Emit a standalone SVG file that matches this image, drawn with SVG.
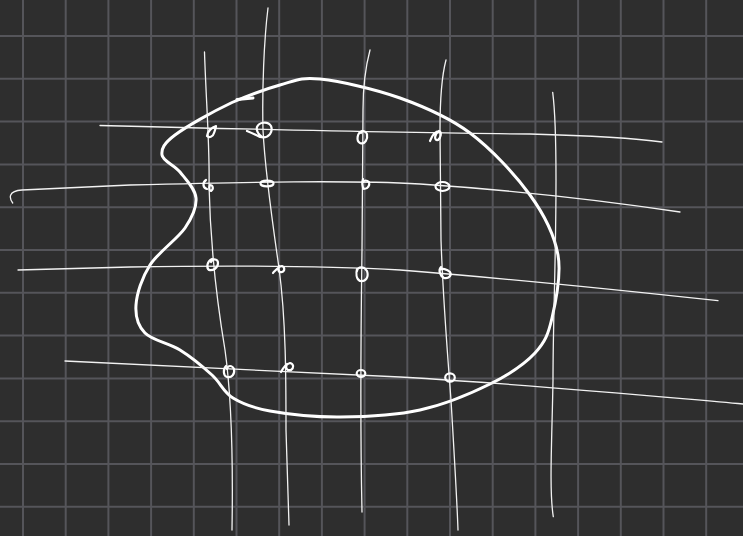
<svg xmlns="http://www.w3.org/2000/svg" width="743" height="536" viewBox="0 0 743 536">
<style>
.grid line{stroke:#55555a;stroke-width:2}
.thin{fill:none;stroke:#f2f2f2;stroke-width:1.3;stroke-linecap:round;stroke-linejoin:round}
.thick{fill:none;stroke:#ffffff;stroke-width:3;stroke-linecap:round;stroke-linejoin:round}
.loop{fill:none;stroke:#ffffff;stroke-width:2.2;stroke-linecap:round;stroke-linejoin:round}
</style>
<rect width="743" height="536" fill="#2e2e2e"/>
<g id="grid" class="grid">
<line x1="23" y1="0" x2="23" y2="536"/><line x1="65.7" y1="0" x2="65.7" y2="536"/><line x1="108.4" y1="0" x2="108.4" y2="536"/><line x1="151.1" y1="0" x2="151.1" y2="536"/><line x1="193.8" y1="0" x2="193.8" y2="536"/><line x1="236.5" y1="0" x2="236.5" y2="536"/><line x1="279.2" y1="0" x2="279.2" y2="536"/><line x1="321.9" y1="0" x2="321.9" y2="536"/><line x1="364.6" y1="0" x2="364.6" y2="536"/><line x1="407.3" y1="0" x2="407.3" y2="536"/><line x1="450" y1="0" x2="450" y2="536"/><line x1="492.7" y1="0" x2="492.7" y2="536"/><line x1="535.4" y1="0" x2="535.4" y2="536"/><line x1="578.1" y1="0" x2="578.1" y2="536"/><line x1="620.8" y1="0" x2="620.8" y2="536"/><line x1="663.5" y1="0" x2="663.5" y2="536"/><line x1="706.2" y1="0" x2="706.2" y2="536"/>
<line x1="0" y1="36" x2="743" y2="36"/><line x1="0" y1="78.8" x2="743" y2="78.8"/><line x1="0" y1="121.6" x2="743" y2="121.6"/><line x1="0" y1="164.4" x2="743" y2="164.4"/><line x1="0" y1="207.2" x2="743" y2="207.2"/><line x1="0" y1="250" x2="743" y2="250"/><line x1="0" y1="292.8" x2="743" y2="292.8"/><line x1="0" y1="335.6" x2="743" y2="335.6"/><line x1="0" y1="378.4" x2="743" y2="378.4"/><line x1="0" y1="421.2" x2="743" y2="421.2"/><line x1="0" y1="464" x2="743" y2="464"/><line x1="0" y1="506.8" x2="743" y2="506.8"/>
</g>
<g id="blob">
<path class="thick" d="M320,79 C340,81.2 375,89 400,98 C425,107 448.3,116.8 470,133 C491.7,149.2 515.3,174.7 530,195 C544.7,215.3 554.3,234.5 558,255 C561.7,275.5 555.8,301.7 552,318 C548.2,334.3 545.3,342 535,353 C524.7,364 509.2,374.5 490,384 C470.8,393.5 445,404.5 420,410 C395,415.5 365,416.8 340,417 C315,417.2 287.8,414.2 270,411 C252.2,407.8 242.7,404 233,398 C223.3,392 220.8,383 212,375 C203.2,367 191.2,357 180,350 C168.8,343 152.3,340.5 145,333 C137.7,325.5 135.2,316.3 136,305 C136.8,293.7 141.8,277.8 150,265 C158.2,252.2 177.3,239.2 185,228 C192.7,216.8 196.8,207.3 196,198 C195.2,188.7 185.7,179.2 180,172 C174.3,164.8 162.8,161.2 162,155 C161.2,148.8 163.7,143.5 175,135 C186.3,126.5 212,112 232,102.5 C249,95 265,89.2 280,85 C295,80.8 300,76.8 320,79 Z"/>
<path class="thick" d="M237,99.5 L253,98" stroke-width="2"/>
</g>
<g id="lines">
<path class="thin" d="M100,125.5 C200,128 400,133 530,134 C600,136 640,139 662,142"/>
<path class="thin" d="M12.7,203 C9,198 8,191 22,190 L130,185 C250,182 350,180 420,184 C480,188 580,197 680,212"/>
<path class="thin" d="M18,270 L130,267 C250,265 330,266 400,270 C500,278 620,290 718,300.7"/>
<path class="thin" d="M65,361 C150,364 250,370 400,377 C550,386 650,396 743,404"/>
<path class="thin" d="M204.5,52 C206,100 210,150 209,185 C210,230 215,290 225,350 C232,400 233,470 232,530"/>
<path class="thin" d="M268,8 C264,40 262,90 263,130 C265,170 272,220 279,268 C286,320 286,380 286,430 C287,470 288,500 289,525"/>
<path class="thin" d="M370,50 C366,65 363,85 363,110 L362,250 C361,320 360,420 362,512"/>
<path class="thin" d="M446,60 C442,75 440,95 440,130 L441,240 C443,300 448,360 451,400 C454,450 457,500 458,530"/>
<path class="thin" d="M552.7,92.3 C555,110 556,140 556,180 C556,260 553,320 553,380 C552,440 549,490 553.3,516.7"/>
</g>
<g id="loops">
<path class="loop" d="M216,126 C212,127 207,132 207,136 C209,138 213,137 214,133 C215,130 216,128 216,126"/>
<path class="loop" d="M247,131 C252,133 256,135 260,137 C270,139 273,131 271,126 C268,121 259,122 257,127 C256,131 258,134 262,137"/>
<path class="loop" d="M362,131 C357,133 356,141 360,143 C365,145 368,139 367,134 C366,131 362,130 361,133"/>
<path class="loop" d="M430,141 C432,136 435,131 439,131 C442,132 441,138 438,140 C434,141 434,134 439,131"/>
<path class="loop" d="M206,180 C202,183 203,188 207,189"/>
<path class="loop" d="M210,185 C213,185 214,189 211,191 C209,191 209,187 210,185" fill="#ffffff"/>
<ellipse class="loop" cx="267" cy="183.5" rx="6.5" ry="2.8"/>
<path class="loop" d="M363,179 C362,182 362,187 364,189 C368,189 370,185 369,182 C367,180 364,180 363,182"/>
<ellipse class="loop" cx="442.5" cy="186.5" rx="7" ry="4.5"/>
<path class="loop" d="M212,259 C207,261 206,268 209,270 C213,271 218,268 218,263 C218,259 213,258 211,262"/>
<path class="loop" d="M273,273 C276,270 279,266 282,266 C285,267 285,271 282,272 C279,273 277,270 279,266"/>
<path class="loop" d="M357,269 C356,273 356,279 360,281 C366,282 369,277 367,271 C364,266 358,266 357,271"/>
<path class="loop" d="M441,267 C438,270 440,276 444,278 C449,279 452,275 450,272 C447,269 442,268 440,270"/>
<path class="loop" d="M226,366 C223,369 223,376 227,377 C232,378 235,374 234,369 C232,365 228,365 227,369"/>
<path class="loop" d="M281,372 C283,368 286,364 290,363 C294,364 294,368 291,370 C287,371 285,368 287,364"/>
<ellipse class="loop" cx="361" cy="373.5" rx="4.3" ry="3.5"/>
<ellipse class="loop" cx="450" cy="377.5" rx="4.8" ry="4.2"/>
</g>
</svg>
